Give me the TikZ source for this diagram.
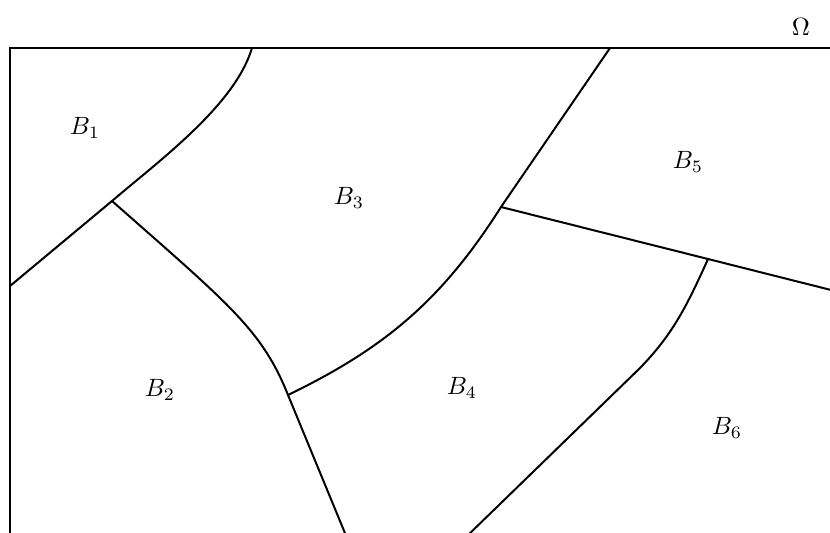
\documentclass[tikz,border=0pt]{standalone}
\begin{document}
\begin{tikzpicture}[x=0.4pt,y=-0.4pt,
  edge/.style={line width=0.8pt,line join=round},
  lab/.style={inner sep=0pt}]
\clip (0,0) rectangle (830,532);
\fill[white] (0,0) rectangle (830,532);
% domain
\draw[line width=0.9pt] (10,600) -- (10,48) -- (900,48);
\coordinate (T1) at (252,48);
\coordinate (T2) at (610,48);
\coordinate (L1) at (10,286);
\coordinate (R1) at (835,291);
\coordinate (D1) at (347,538);
\coordinate (D2) at (465,538);
\coordinate (J1) at (112,201);
\coordinate (J2) at (288,395);
\coordinate (J3) at (501,207);
\coordinate (J4) at (708,259);
\draw[edge] (T1) .. controls (235,105) and (160,160) .. (J1) -- (L1);
\draw[edge] (J1) .. controls (230,305) and (262,330) .. (J2) -- (D1);
\draw[edge] (J2) .. controls (385,348) and (442,300) .. (J3) -- (T2);
\draw[edge] (J3) -- (J4) -- (R1);
\draw[edge] (J4) .. controls (686,308) and (672,335) .. (640,368) -- (D2);
\node[lab] (b1) at (85,128) {$B_1$};
\node[lab] (b2) at (160,390) {$B_2$};
\node[lab] (b3) at (349,198) {$B_3$};
\node[lab] (b4) at (462,388) {$B_4$};
\node[lab] (b5) at (688,162) {$B_5$};
\node[lab] (b6) at (727,428) {$B_6$};
\node[lab] (om) at (801,27) {$\Omega$};
\end{tikzpicture}
\end{document}
